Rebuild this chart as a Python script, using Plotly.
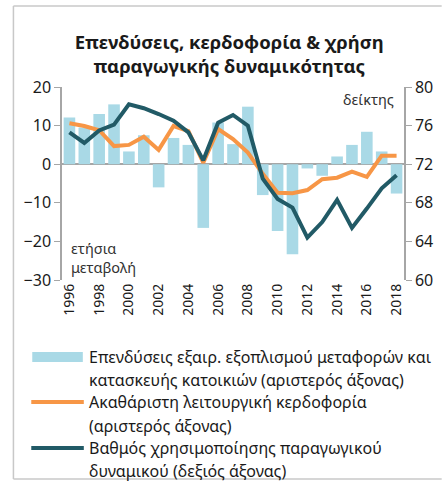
import plotly.graph_objects as go

years = list(range(1996, 2019))
investment = [12.1, 9.5, 13.0, 15.5, 3.3, 7.5, -6.0, 6.8, 5.0, -16.5, 10.8, 5.2, 14.9,
              -8.0, -17.3, -23.3, -1.1, -3.0, 2.0, 5.0, 8.4, 3.3, -7.6]
profitability = [10.6, 9.9, 8.8, 4.7, 5.0, 7.1, 3.7, 9.9, 8.6, 0.4, 9.1, 6.5, 3.0,
                 -2.5, -7.4, -7.5, -6.7, -3.9, -3.5, -1.9, -3.3, 2.2, 2.2]
capacity = [75.3, 74.2, 75.5, 76.1, 78.2, 77.8, 77.2, 76.5, 75.3, 72.4, 76.3, 77.1, 76.0,
            70.5, 68.4, 67.5, 64.4, 66.0, 68.3, 65.4, 67.4, 69.5, 70.85]

title_text = "<b>Επενδύσεις, κερδοφορία & χρήση<br>παραγωγικής δυναμικότητας</b>"
legend_lines = [
    ["Επενδύσεις εξαιρ. εξοπλισμού μεταφορών και", "κατασκευής κατοικιών (αριστερός άξονας)"],
    ["Ακαθάριστη λειτουργική κερδοφορία", "(αριστερός άξονας)"],
    ["Βαθμός χρησιμοποίησης παραγωγικού", "δυναμικού (δεξιός άξονας)"],
]
x_ticks = list(range(1996, 2019, 2))

C_BAR = "#a9d9e6"
C_OR = "#f79646"
C_TEAL = "#215a66"
FONT = "Noto Sans"

W, H = 445, 481
L, R, T, B = 62, 38, 87, 201
pw, ph = W - L - R, H - T - B


def px(x):
    return (x - L) / pw


def py(y):
    return (H - B - y) / ph


fig = go.Figure()
fig.add_trace(go.Bar(x=years, y=investment, marker_color=C_BAR, marker_line_width=0,
                     name=" ".join(legend_lines[0]), showlegend=False))
fig.add_trace(go.Scatter(x=years, y=profitability, mode="lines",
                         line=dict(color=C_OR, width=4), name=" ".join(legend_lines[1]),
                         showlegend=False))
fig.add_trace(go.Scatter(x=years, y=capacity, mode="lines", yaxis="y2",
                         line=dict(color=C_TEAL, width=4), name=" ".join(legend_lines[2]),
                         showlegend=False))

fig.update_layout(
    width=W, height=H, autosize=False,
    margin=dict(l=L, r=R, t=T, b=B),
    paper_bgcolor="white", plot_bgcolor="white",
    font=dict(family=FONT, color="#1a1a1a"),
    bargap=0.22,
    title=dict(text=title_text, x=0.515, xanchor="center", y=1 - 49 / H, yanchor="middle",
               font=dict(size=18.5, family=FONT, color="#1a1a1a")),
    xaxis=dict(range=[1995.5, 2018.5], tickvals=x_ticks, ticktext=[str(v) for v in x_ticks],
               tickangle=-90, tickfont=dict(size=14), showgrid=False, showline=False,
               zeroline=False, ticks=""),
    yaxis=dict(range=[-30, 20], dtick=10, tickfont=dict(size=16), showgrid=False,
               showline=True, linecolor="#a6a6a6", linewidth=1.5, ticks="outside",
               ticklen=6, tickcolor="#a6a6a6", zeroline=True, zerolinecolor="#a6a6a6",
               zerolinewidth=2),
    yaxis2=dict(range=[60, 80], dtick=4, overlaying="y", side="right",
                tickfont=dict(size=16), showgrid=False, showline=True,
                linecolor="#a6a6a6", linewidth=1.5, ticks="outside", ticklen=6,
                tickcolor="#a6a6a6", zeroline=False),
)

annotations = [
    dict(text="ετήσια<br>μεταβολή", x=px(69), y=py(257), xref="paper", yref="paper",
         xanchor="left", yanchor="middle", align="left", showarrow=False,
         font=dict(size=14.5, family=FONT, color="#333333")),
    dict(text="δείκτης", x=px(399), y=py(99), xref="paper", yref="paper",
         xanchor="right", yanchor="middle", showarrow=False,
         font=dict(size=14.5, family=FONT, color="#333333")),
]
shapes = []
legend_y = [(357, 380), (402, 426), (448, 471)]
colors = [C_BAR, C_OR, C_TEAL]
for i, (lines, ys) in enumerate(zip(legend_lines, legend_y)):
    for txt, yc in zip(lines, ys):
        annotations.append(dict(text=txt, x=px(87), y=py(yc), xref="paper", yref="paper",
                                xanchor="left", yanchor="middle", align="left",
                                showarrow=False,
                                font=dict(size=16, family=FONT, color="#1a1a1a")))
    sy = ys[0]
    if i == 0:
        shapes.append(dict(type="rect", xref="paper", yref="paper",
                           x0=px(32), x1=px(83), y0=py(sy - 5), y1=py(sy + 5),
                           fillcolor=C_BAR, line=dict(width=0)))
    else:
        shapes.append(dict(type="line", xref="paper", yref="paper",
                           x0=px(31), x1=px(84), y0=py(sy), y1=py(sy),
                           line=dict(color=colors[i], width=4)))

# outer frame
shapes.append(dict(type="line", xref="paper", yref="paper", x0=px(13), x1=px(13),
                   y0=py(6), y1=py(479), line=dict(color="#c8c8c8", width=1.5)))
shapes.append(dict(type="line", xref="paper", yref="paper", x0=px(13), x1=px(445),
                   y0=py(6), y1=py(6), line=dict(color="#c8c8c8", width=1.5)))
shapes.append(dict(type="line", xref="paper", yref="paper", x0=px(13), x1=px(445),
                   y0=py(479), y1=py(479), line=dict(color="#c8c8c8", width=1.5)))

fig.update_layout(annotations=annotations, shapes=shapes)
fig.write_html("out.html", config={"displayModeBar": False})

# remove default browser body margin so the figure sits at the page origin
with open("out.html", "r", encoding="utf-8") as f:
    html = f.read()
html = html.replace("<head>", "<head><style>html,body{margin:0;padding:0;}</style>", 1)
with open("out.html", "w", encoding="utf-8") as f:
    f.write(html)
